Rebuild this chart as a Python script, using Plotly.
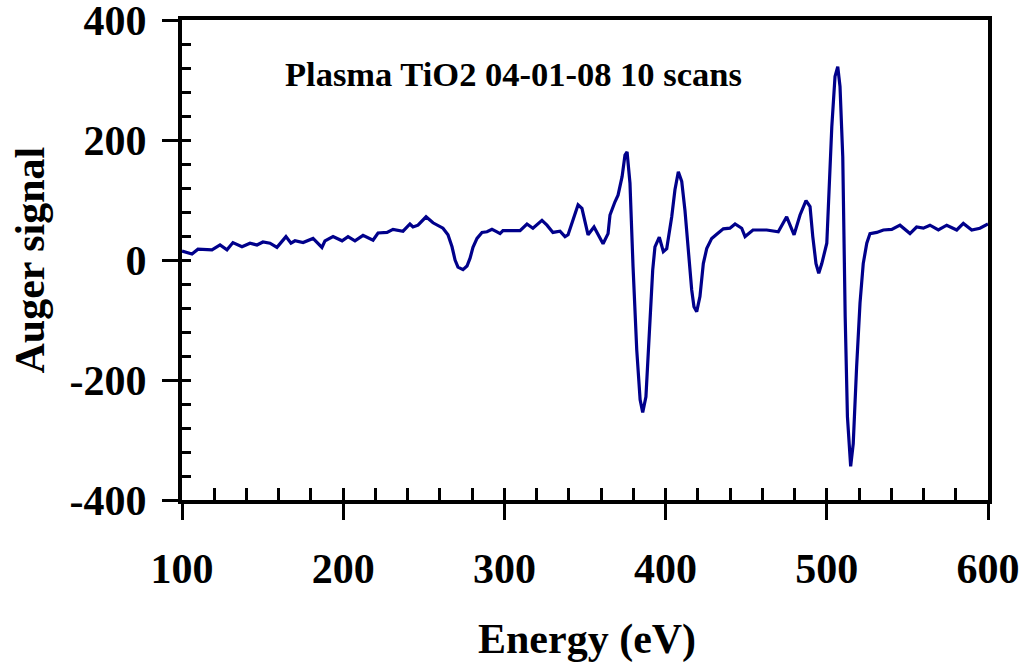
import plotly.graph_objects as go

energy = [100, 106.2, 109.9, 114.3, 118.6, 123.6, 127.9, 131.6, 137.2, 142.2, 146.5, 150.2, 154.6,
          158.9, 164.5, 167.6, 170.1, 175.1, 181.3, 186.8, 188.7, 193.7, 199.3, 203.0, 207.3, 212.3,
          218.5, 221.6, 227.2, 230.9, 237.1, 241.4, 243.3, 246.4, 251.4, 255.7, 258.8, 261.9, 265.0,
          267.5, 269.4, 271.2, 274.3, 276.8, 278.7, 280.5, 283.0, 286.1, 289.2, 292.3, 295.4, 297.3,
          299.1, 309.7, 314.0, 317.7, 323.3, 326.4, 330.1, 334.5, 337.6, 339.5, 342.6, 345.7, 348.1,
          350.0, 351.9, 355.6, 358.1, 361.2, 364.3, 365.5, 368.6, 370.5, 373.0, 374.8, 376.1, 377.9,
          379.8, 382.1, 384.2, 385.8, 387.8, 389.9, 392.0, 393.4, 396.1, 398.6, 400.7, 403.8, 405.8,
          407.9, 410.0, 412.0, 414.1, 416.2, 417.6, 419.3, 421.3, 423.4, 425.5, 428.6, 431.7, 435.8,
          439.9, 443.1, 447.2, 449.3, 454.2, 462.7, 469.9, 475.1, 479.7, 483.4, 487.1, 489.6, 491.3,
          493.3, 495.0, 496.9, 500.0, 501.0, 503.1, 505.1, 506.8, 508.2, 509.9, 511.4, 512.8, 514.8,
          516.4, 518.5, 520.6, 522.6, 524.8, 526.8, 531.0, 535.1, 540.3, 545.4, 551.6, 555.7, 559.9,
          564.0, 569.2, 574.4, 580.6, 584.7, 589.9, 595.0, 600.0]
signal = [15, 10, 18, 17, 17, 25, 17, 29, 22, 28, 25, 30, 28,
          21, 39, 28, 32, 29, 36, 21, 32, 39, 32, 39, 32, 41,
          33, 45, 46, 51, 48, 60, 55, 58, 72, 62, 58, 53, 42,
          22, 0, -12, -16, -10, 3, 21, 36, 46, 47, 51, 47, 44,
          49, 49, 60, 53, 66, 58, 46, 48, 39, 42, 67, 92, 86,
          64, 42, 55, 42, 27, 44, 75, 97, 108, 139, 175, 180, 128,
          -11, -150, -233, -254, -228, -122, -17, 22, 38, 14, 19, 72, 117,
          147, 131, 83, 17, -50, -78, -86, -61, -6, 19, 36, 43, 52,
          53, 60, 53, 39, 50, 50, 47, 72, 42, 75, 99, 89, 39,
          -6, -22, -6, 28, 100, 222, 306, 322, 289, 172, -94, -261, -344,
          -306, -178, -72, -6, 28, 44, 46, 50, 51, 58, 44, 55, 53,
          58, 50, 58, 50, 61, 50, 53, 60]

x_range = [100, 600]
y_range = [-400, 400]
x_ticks = [100, 200, 300, 400, 500, 600]
x_labels = ["100", "200", "300", "400", "500", "600"]
y_ticks = [-400, -200, 0, 200, 400]
y_labels = ["-400", "-200", "0", "200", "400"]

FONT = "Liberation Serif"

fig = go.Figure()
fig.add_trace(go.Scatter(x=energy, y=signal, mode="lines",
                         line=dict(color="#00008B", width=3.2), showlegend=False))

fig.update_layout(
    width=1023, height=662,
    margin=dict(l=182, r=35, t=20, b=162),
    paper_bgcolor="white", plot_bgcolor="white",
    font=dict(family=FONT, color="black"),
    xaxis=dict(range=x_range, tickvals=x_ticks, ticktext=x_labels, ticks="outside", ticklen=16,
               tickwidth=3, tickcolor="black", showline=True, linewidth=4, linecolor="black",
               mirror=True, showgrid=False, zeroline=False, ticklabelstandoff=13, automargin=False,
               ticklabeloverflow="allow",
               tickfont=dict(family=FONT, size=42, color="black", weight="bold")),
    yaxis=dict(range=y_range, tickvals=y_ticks, ticktext=y_labels, ticks="outside", ticklen=16,
               tickwidth=3, tickcolor="black", showline=True, linewidth=4, linecolor="black",
               mirror=True, showgrid=False, zeroline=False, ticklabelstandoff=7, automargin=False,
               ticklabeloverflow="allow",
               tickfont=dict(family=FONT, size=42, color="black", weight="bold")),
    xaxis2=dict(overlaying="x", range=x_range, tick0=100, dtick=20, ticks="inside", ticklen=12,
                tickwidth=3, tickcolor="black", showticklabels=False, showline=False,
                showgrid=False, zeroline=False, automargin=False),
    yaxis2=dict(overlaying="y", range=y_range, tick0=-400, dtick=40, ticks="inside", ticklen=9,
                tickwidth=3, tickcolor="black", showticklabels=False, showline=False,
                showgrid=False, zeroline=False, automargin=False),
    annotations=[
        dict(text="Plasma TiO2 04-01-08 10 scans", x=0.411, y=0.931, xref="paper", yref="paper",
             showarrow=False, font=dict(family=FONT, size=34.5, color="black", weight="bold")),
        dict(text="Energy (eV)", x=0.503, y=-0.29, xref="paper", yref="paper", yanchor="middle",
             showarrow=False, font=dict(family=FONT, size=42, color="black", weight="bold")),
        dict(text="Auger signal", x=-0.188, y=0.5, xref="paper", yref="paper", textangle=-90,
             xanchor="center", showarrow=False,
             font=dict(family=FONT, size=42, color="black", weight="bold")),
    ],
)
fig.add_trace(go.Scatter(x=[None], y=[None], xaxis="x2", yaxis="y2", showlegend=False,
                         hoverinfo="skip"))

fig.write_html("out.html")
